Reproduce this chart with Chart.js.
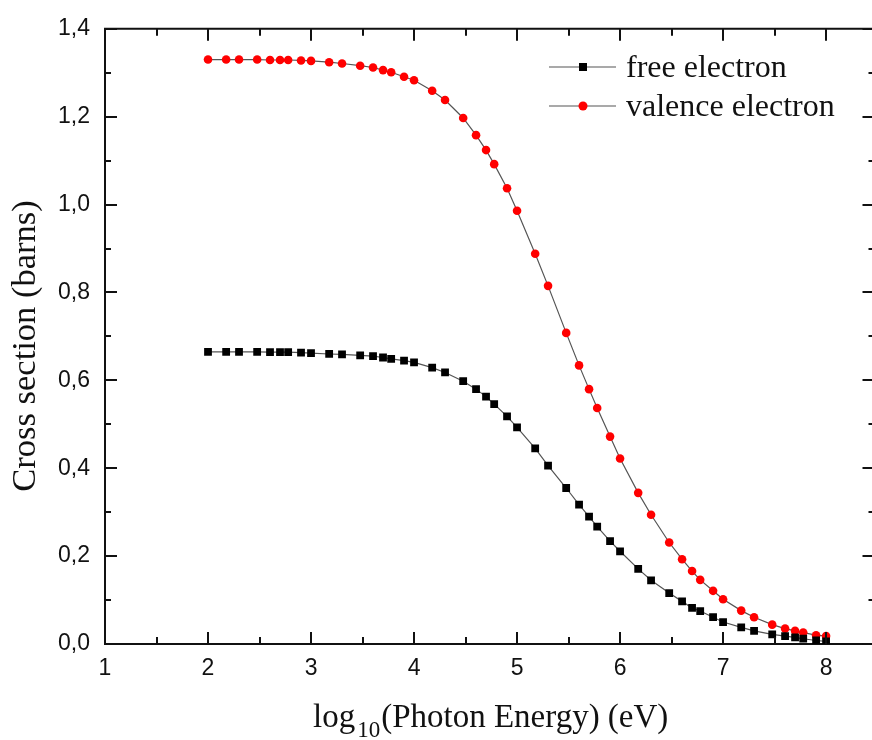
<!DOCTYPE html>
<html>
<head>
<meta charset="utf-8">
<title>Cross section vs photon energy</title>
<script src="https://cdn.jsdelivr.net/npm/chart.js@4.4.1/dist/chart.umd.min.js"></script>
<style>
  html, body { margin: 0; padding: 0; background: #fff; overflow: hidden; }
  #wrap { width: 880px; height: 740px; }
</style>
</head>
<body>
<div id="wrap"><canvas id="chart" width="880" height="740"></canvas></div>
<script>
// log10 of photon energy (eV): 1, 1.5, 2, 3, 4, 5, 6, 8 per decade
const logEnergy = [
  2, 2.176, 2.301, 2.477, 2.602, 2.699, 2.778, 2.903,
  3, 3.176, 3.301, 3.477, 3.602, 3.699, 3.778, 3.903,
  4, 4.176, 4.301, 4.477, 4.602, 4.699, 4.778, 4.903,
  5, 5.176, 5.301, 5.477, 5.602, 5.699, 5.778, 5.903,
  6, 6.176, 6.301, 6.477, 6.602, 6.699, 6.778, 6.903,
  7, 7.176, 7.301, 7.477, 7.602, 7.699, 7.778, 7.903,
  8
];

// cross section (barns)
const freeElectron = [
  0.665, 0.665, 0.665, 0.665, 0.664, 0.664, 0.664, 0.663,
  0.662, 0.660, 0.659, 0.657, 0.655, 0.652, 0.649, 0.645,
  0.641, 0.629, 0.618, 0.598, 0.580, 0.563, 0.546, 0.518,
  0.493, 0.445, 0.406, 0.355, 0.317, 0.290, 0.267, 0.234,
  0.211, 0.171, 0.145, 0.116, 0.097, 0.082, 0.075, 0.061,
  0.050, 0.038, 0.030, 0.022, 0.018, 0.015, 0.012, 0.008,
  0.006
];

const valenceElectron = [
  1.330, 1.330, 1.330, 1.330, 1.329, 1.329, 1.329, 1.328,
  1.327, 1.324, 1.321, 1.316, 1.312, 1.306, 1.301, 1.291,
  1.283, 1.259, 1.238, 1.197, 1.158, 1.124, 1.092, 1.037,
  0.986, 0.888, 0.815, 0.708, 0.634, 0.580, 0.537, 0.472,
  0.422, 0.344, 0.294, 0.231, 0.193, 0.166, 0.146, 0.121,
  0.102, 0.076, 0.061, 0.044, 0.035, 0.030, 0.026, 0.020,
  0.018
];

const xMajorTicks = [1, 2, 3, 4, 5, 6, 7, 8];
const xMinorTicks = [1.5, 2.5, 3.5, 4.5, 5.5, 6.5, 7.5];
const yMajorTicks = [0, 0.2, 0.4, 0.6, 0.8, 1.0, 1.2, 1.4];
const yMinorTicks = [0.1, 0.3, 0.5, 0.7, 0.9, 1.1, 1.3];

const toPoints = ys => logEnergy.map((x, i) => ({ x: x, y: ys[i] }));

// inward ticks on all four sides, top/right frame lines and axis titles
const frame = {
  id: 'frame',
  afterDraw(chart) {
    const { ctx, chartArea: a, scales: { x, y } } = chart;
    ctx.save();
    ctx.strokeStyle = '#111';
    ctx.lineWidth = 2;
    ctx.beginPath();
    ctx.moveTo(a.left - 1, a.top);
    ctx.lineTo(a.right, a.top);
    ctx.lineTo(a.right, a.bottom);
    const tick = (vals, len) => {
      vals.forEach(v => {
        const px = Math.round(x.getPixelForValue(v));
        ctx.moveTo(px, a.bottom); ctx.lineTo(px, a.bottom - len);
        ctx.moveTo(px, a.top); ctx.lineTo(px, a.top + len);
      });
    };
    const ytick = (vals, len) => {
      vals.forEach(v => {
        const py = Math.round(y.getPixelForValue(v));
        ctx.moveTo(a.left, py); ctx.lineTo(a.left + len, py);
        ctx.moveTo(a.right, py); ctx.lineTo(a.right - len, py);
      });
    };
    tick(xMajorTicks, 12);
    tick(xMinorTicks, 7);
    ytick(yMajorTicks, 12);
    ytick(yMinorTicks, 6);
    ctx.stroke();

    ctx.fillStyle = '#111';
    ctx.textBaseline = 'alphabetic';

    // x title with subscript
    ctx.textAlign = 'left';
    ctx.font = '33px "Liberation Serif"';
    ctx.fillText('log', 313, 727);
    let w = ctx.measureText('log').width;
    ctx.font = '23px "Liberation Serif"';
    ctx.fillText('10', 313 + w + 2, 737);
    w += ctx.measureText('10').width + 3;
    ctx.font = '33px "Liberation Serif"';
    ctx.fillText('(Photon Energy) (eV)', 313 + w, 727);

    // y title
    ctx.translate(35, 346);
    ctx.rotate(-Math.PI / 2);
    ctx.textAlign = 'center';
    ctx.font = '34.5px "Liberation Serif"';
    ctx.fillText('Cross section (barns)', 0, 0);
    ctx.restore();
  }
};

// legend in the top right corner of the plot
const legendBox = {
  id: 'legendBox',
  afterDraw(chart) {
    const { ctx } = chart;
    ctx.save();
    chart.data.datasets.forEach((ds, i) => {
      const yc = 67 + i * 39;
      ctx.strokeStyle = ds.borderColor;
      ctx.lineWidth = 1.2;
      ctx.beginPath();
      ctx.moveTo(549, yc);
      ctx.lineTo(616, yc);
      ctx.stroke();
      ctx.fillStyle = ds.pointBackgroundColor;
      if (ds.pointStyle === 'rect') {
        ctx.fillRect(579, yc - 4, 8, 8);
      } else {
        ctx.beginPath();
        ctx.arc(583, yc, 4.5, 0, Math.PI * 2);
        ctx.fill();
      }
      ctx.fillStyle = '#111';
      ctx.font = '32px "Liberation Serif"';
      ctx.textBaseline = 'alphabetic';
      ctx.fillText(ds.label, 626, yc + 10);
    });
    ctx.restore();
  }
};

new Chart(document.getElementById('chart'), {
  type: 'line',
  data: {
    datasets: [
      {
        label: 'free electron',
        data: toPoints(freeElectron),
        borderColor: '#555',
        borderWidth: 1.2,
        pointStyle: 'rect',
        pointRadius: 5.5,
        pointBackgroundColor: '#000',
        pointBorderWidth: 0,
        tension: 0
      },
      {
        label: 'valence electron',
        data: toPoints(valenceElectron),
        borderColor: '#555',
        borderWidth: 1.2,
        pointStyle: 'circle',
        pointRadius: 4.3,
        pointBackgroundColor: '#ff0000',
        pointBorderWidth: 0,
        tension: 0
      }
    ]
  },
  options: {
    responsive: false,
    animation: false,
    layout: { padding: { top: 21, right: 4.5, left: 0, bottom: 0 } },
    plugins: { legend: { display: false }, tooltip: { enabled: false } },
    scales: {
      x: {
        type: 'linear',
        min: 1,
        max: 8.47,
        afterFit(s) { s.height = 96; },
        afterBuildTicks(s) { s.ticks = xMajorTicks.map(v => ({ value: v })); },
        grid: { display: false, drawTicks: false },
        border: { display: true, color: '#111', width: 2 },
        ticks: {
          color: '#111',
          padding: 11,
          maxRotation: 0,
          font: { family: '"Liberation Sans"', size: 23 }
        }
      },
      y: {
        min: 0,
        max: 1.4,
        afterFit(s) { s.width = 105; },
        afterBuildTicks(s) { s.ticks = yMajorTicks.map(v => ({ value: v })); },
        grid: { display: false, drawTicks: false },
        border: { display: true, color: '#111', width: 2 },
        ticks: {
          color: '#111',
          padding: 15,
          font: { family: '"Liberation Sans"', size: 23 },
          callback: v => v.toFixed(1).replace('.', ',')
        }
      }
    }
  },
  plugins: [frame, legendBox]
});
</script>
</body>
</html>
